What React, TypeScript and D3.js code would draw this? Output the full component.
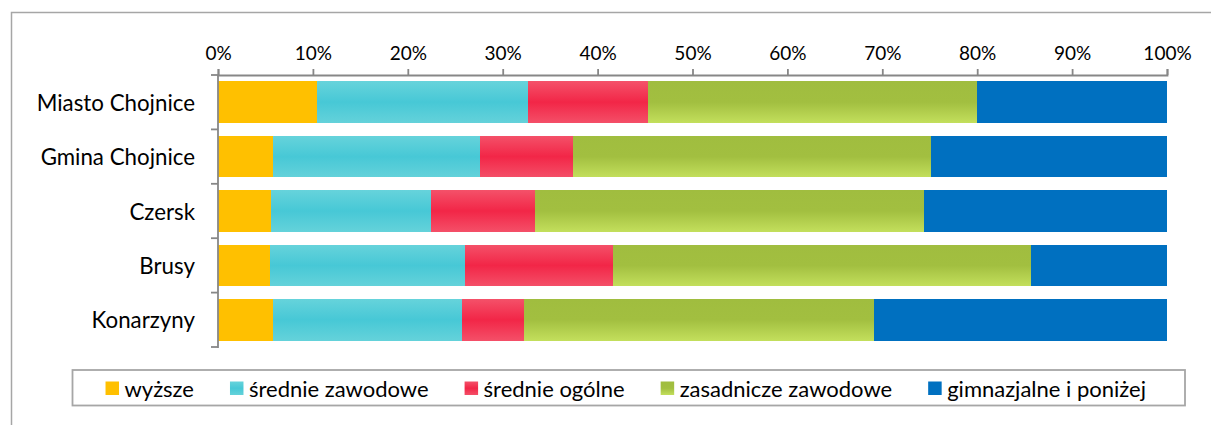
import React, { useEffect, useRef } from "react";
import * as d3 from "d3";

const categories = ["Miasto Chojnice", "Gmina Chojnice", "Czersk", "Brusy", "Konarzyny"];
const seriesNames = ["wyższe", "średnie zawodowe", "średnie ogólne", "zasadnicze zawodowe", "gimnazjalne i poniżej"];
const wyzsze = [10.4, 5.8, 5.6, 5.5, 5.8];
const srednieZawodowe = [22.3, 21.8, 16.8, 20.5, 19.9];
const srednieOgolne = [12.6, 9.8, 11.0, 15.6, 6.5];
const zasadniczeZawodowe = [34.7, 37.7, 41.0, 44.1, 36.9];
const gimnazjalne = [20.0, 24.9, 25.6, 14.3, 30.9];
const tickValues = [0, 0.1, 0.2, 0.3, 0.4, 0.5, 0.6, 0.7, 0.8, 0.9, 1];

const seriesValues = [wyzsze, srednieZawodowe, srednieOgolne, zasadniczeZawodowe, gimnazjalne];
const FONT = "Lato, 'Open Sans', sans-serif";

export default function App() {
  const ref = useRef<SVGSVGElement | null>(null);

  useEffect(() => {
    const svg = d3.select(ref.current);
    svg.selectAll("*").remove();
    const W = 1211, H = 425;

    // gradients
    const defs = svg.append("defs");
    const mkGrad = (id: string, stops: [number, string][]) => {
      const g = defs.append("linearGradient").attr("id", id).attr("x1", 0).attr("y1", 0).attr("x2", 0).attr("y2", 1);
      stops.forEach(([o, c]) => g.append("stop").attr("offset", o).attr("stop-color", c));
    };
    mkGrad("g0", [[0, "#FFC000"], [1, "#FFC000"]]);
    mkGrad("g1", [[0, "#66D3DB"], [0.5, "#47C8D6"], [1, "#64D2DA"]]);
    mkGrad("g2", [[0, "#F45169"], [0.5, "#F22647"], [1, "#F44F68"]]);
    mkGrad("g3", [[0, "#A0BD3F"], [0.5, "#A2BF40"], [1, "#C3DF5C"]]);
    mkGrad("g4", [[0, "#0070C0"], [1, "#0070C0"]]);
    const fills = ["url(#g0)", "url(#g1)", "url(#g2)", "url(#g3)", "url(#g4)"];

    // outer border (cropped frame)
    svg.append("rect").attr("x", 11.5).attr("y", 12.5).attr("width", W + 20).attr("height", H + 20)
      .attr("fill", "white").attr("stroke", "#A6A6A6").attr("stroke-width", 1.5);

    // data table -> stack
    const rows = categories.map((c, i) => {
      const r: any = { cat: c };
      seriesNames.forEach((s, k) => (r[s] = seriesValues[k][i]));
      return r;
    });
    const stack = d3.stack<any>().keys(seriesNames).offset(d3.stackOffsetExpand);
    const stacked = stack(rows);

    const x = d3.scaleLinear().domain([0, 1]).range([218, 1167]);
    const y = d3.scaleBand<string>().domain(categories).range([75, 347]).paddingInner(0.235).paddingOuter(0.1175);

    // bars
    stacked.forEach((layer, k) => {
      svg.append("g").selectAll("rect").data(layer).enter().append("rect")
        .attr("x", (d: any) => x(d[0]))
        .attr("y", (d: any) => y(d.data.cat)!)
        .attr("width", (d: any) => x(d[1]) - x(d[0]))
        .attr("height", y.bandwidth())
        .attr("fill", fills[k])
        .attr("shape-rendering", "crispEdges");
    });

    const axisColor = "#878787";
    // top axis
    const xAxis = d3.axisTop(x).tickValues(tickValues).tickFormat(d3.format(".0%")).tickSize(6).tickPadding(9).tickSizeOuter(6);
    const gx = svg.append("g").attr("transform", "translate(0,75)").call(xAxis);
    gx.select(".domain").attr("stroke", axisColor).attr("stroke-width", 1.8);
    gx.selectAll(".tick line").attr("stroke", axisColor).attr("stroke-width", 1.8);
    gx.selectAll(".tick text").attr("fill", "#000").style("font-family", FONT).style("font-size", "19px");

    // left axis: ticks at band boundaries
    const gy = svg.append("g");
    gy.append("line").attr("x1", 218).attr("x2", 218).attr("y1", 75).attr("y2", 348)
      .attr("stroke", axisColor).attr("stroke-width", 1.8);
    const step = y.step();
    const bounds = d3.range(categories.length + 1).map((i) => 75 + i * step);
    gy.selectAll("line.t").data(bounds).enter().append("line")
      .attr("x1", 211).attr("x2", 218).attr("y1", (d) => d).attr("y2", (d) => d)
      .attr("stroke", axisColor).attr("stroke-width", 1.8);
    gy.selectAll("text").data(categories).enter().append("text")
      .attr("x", 195).attr("y", (d) => y(d)! + y.bandwidth() / 2)
      .attr("text-anchor", "end").attr("dominant-baseline", "central")
      .style("font-family", FONT).style("font-size", "22.3px").attr("fill", "#000")
      .text((d) => d);

    // legend
    const lg = svg.append("g");
    lg.append("rect").attr("x", 72.5).attr("y", 370).attr("width", 1185 - 72.5).attr("height", 35.5)
      .attr("fill", "white").attr("stroke", "#A6A6A6").attr("stroke-width", 1.8);
    const items = lg.selectAll("g.item").data(seriesNames).enter().append("g").attr("class", "item");
    items.append("rect").attr("width", 13.5).attr("height", 13.5).attr("y", 381.5)
      .attr("fill", (_d, i) => fills[i]);
    items.append("text").attr("y", 388.5).attr("dominant-baseline", "central")
      .style("font-family", FONT).style("font-size", "22px").attr("fill", "#000")
      .text((d) => d);
    const widths: number[] = [];
    items.selectAll("text").each(function () { widths.push((this as SVGTextElement).getComputedTextLength()); });
    const gap = 36, textOff = 19;
    const total = widths.reduce((a, w) => a + textOff + w, 0) + gap * (widths.length - 1);
    let cx = (72.5 + 1185) / 2 - total / 2 - 3;
    items.each(function (_d, i) {
      const g = d3.select(this);
      g.select("rect").attr("x", cx);
      g.select("text").attr("x", cx + textOff);
      cx += textOff + widths[i] + gap;
    });
  }, []);

  return (
    <svg ref={ref} width={1211} height={425}
      style={{ position: "absolute", left: 0, top: 0, background: "white" }} />
  );
}
